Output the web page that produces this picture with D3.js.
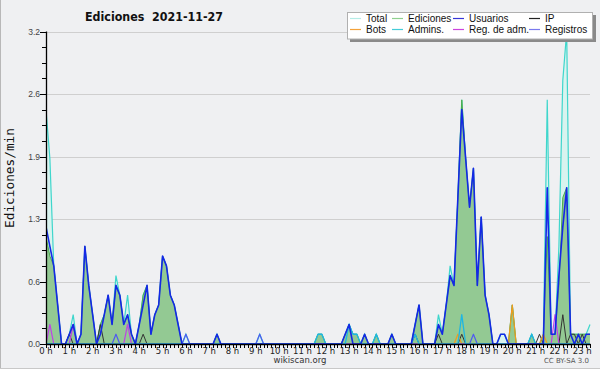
<!DOCTYPE html>
<html><head><meta charset="utf-8">
<script src="https://cdn.jsdelivr.net/npm/d3@7"></script>
<style>body{margin:0;background:#fff}svg{display:block}</style>
</head><body><svg id="c" width="600" height="370"></svg>
<script>
// 10-minute bins, 0:00 .. 23:20 (141 points), values in edits/min
const hourLabels = d3.range(24).map(h => h + " h");
const yTickValues = [0, 0.64, 1.28, 1.92, 2.56, 3.2];
const yTickLabels = ["0.0", "0.6", "1.3", "1.9", "2.6", "3.2"];

const total = [
 2.4,1.9,0.8,0.4,0,0,  0.1,0.3,0,0.1,1.0,0.6,  0.3,0,0.2,0.3,0.5,0.2,  0.7,0.5,0.2,0.5,0.1,0,
 0.2,0.5,0.6,0.1,0.3,0.4,  0.9,0.8,0.5,0.4,0.2,0,  0.1,0,0,0,0,0,  0,0,0.1,0,0,0,
 0,0,0,0,0,0,  0,0.1,0,0,0,0,  0,0,0,0,0,0,  0,0,0,0,0.1,0.1,
 0,0,0,0,0,0.1,  0.2,0.1,0.1,0,0.1,0,  0,0.1,0,0,0,0.1,  0,0,0,0,0,0.2,
 0.4,0,0,0,0,0.3,  0.1,0.4,0.8,0.6,1.5,2.5,  1.9,1.4,1.8,0.6,1.3,0.5,  0.3,0,0,0.1,0.1,0,
 0.4,0,0,0,0,0.1,  0,0,0.1,2.5,0.1,0.1,  1.0,2.7,3.2,0.1,0.1,0.1,  0.1,0.1,0.2];
const edits = [
 1.1,0.9,0.8,0.4,0,0,  0.1,0.2,0,0.1,1.0,0.6,  0.3,0,0.2,0.3,0.5,0.2,  0.6,0.5,0.2,0.3,0.1,0,
 0.2,0.5,0.6,0.1,0.3,0.4,  0.9,0.8,0.5,0.4,0.2,0,  0,0,0,0,0,0,  0,0,0.1,0,0,0,
 0,0,0,0,0,0,  0,0,0,0,0,0,  0,0,0,0,0,0,  0,0,0,0,0.1,0.1,
 0,0,0,0,0,0.1,  0.2,0.1,0.1,0,0.1,0,  0,0.1,0,0,0,0.1,  0,0,0,0,0,0.2,
 0.4,0,0,0,0,0.2,  0.1,0.4,0.7,0.6,1.5,2.5,  1.9,1.4,1.8,0.6,1.3,0.5,  0.3,0,0,0,0,0,
 0.4,0,0,0,0,0.1,  0,0,0.1,1.1,0.1,0.1,  0.6,1.5,1.6,0.1,0.1,0.1,  0.1,0.1,0.1];
const users = [
 1.2,1.0,0.8,0.4,0,0,  0.1,0.2,0,0.1,1.0,0.6,  0.3,0,0.1,0.3,0.5,0.2,  0.6,0.5,0.2,0.3,0.1,0,
 0.2,0.4,0.6,0.1,0.3,0.4,  0.9,0.8,0.5,0.4,0.2,0,  0,0,0,0,0,0,  0,0,0.1,0,0,0,
 0,0,0,0,0,0,  0,0,0,0,0,0,  0,0,0,0,0,0,  0,0,0,0,0,0,
 0,0,0,0,0,0.1,  0.2,0,0,0,0.1,0,  0,0,0,0,0,0.1,  0,0,0,0,0,0.2,
 0.4,0,0,0,0,0.2,  0.1,0.4,0.7,0.6,1.5,2.4,  1.9,1.4,1.8,0.6,1.3,0.5,  0.3,0,0,0.1,0.1,0,
 0,0,0,0,0,0,  0,0,0,1.6,0.1,0.1,  0.7,1.2,1.6,0.1,0,0.1,  0,0.1,0.1];
const ip = [
 0,0,0,0,0,0,  0.1,0,0,0,0,0,  0,0,0.2,0,0,0,  0,0,0,0,0,0,
 0,0.1,0,0,0,0,  0,0,0,0,0,0,  0,0,0,0,0,0,  0,0,0,0,0,0,
 0,0,0,0,0,0,  0,0,0,0,0,0,  0,0,0,0,0,0,  0,0,0,0,0,0,
 0,0,0,0,0,0,  0,0,0,0,0,0,  0,0,0,0,0,0,  0,0,0,0,0,0.1,
 0,0,0,0,0,0.1,  0,0,0,0,0,0.1,  0,0,0,0,0,0,  0,0,0,0,0,0,
 0,0,0,0,0,0,  0,0.1,0,0,0,0,  0,0.3,0,0.1,0.1,0,  0.1,0,0];
const bots = [
 0,0,0,0,0,0,  0,0,0,0,0,0,  0,0,0,0,0,0,  0,0,0,0,0,0,
 0,0,0,0,0,0,  0,0,0,0,0,0,  0,0,0,0,0,0,  0,0,0,0,0,0,
 0,0,0,0,0,0,  0,0,0,0,0,0,  0,0,0,0,0,0,  0,0,0,0,0,0,
 0,0,0,0,0,0,  0,0,0,0,0,0,  0,0,0,0,0,0,  0,0,0,0,0,0,
 0,0,0,0,0,0,  0,0,0,0,0.1,0,  0,0,0,0,0,0,  0,0,0,0,0,0,
 0.4,0,0,0,0,0,  0,0,0.1,0,0,0,  0,0,0,0,0,0,  0,0,0];
const admins = [
 0,0,0,0,0,0,  0,0,0,0,0,0,  0,0,0,0,0,0,  0,0,0,0,0,0,
 0,0,0,0,0,0,  0,0,0,0,0,0,  0,0,0,0,0,0,  0,0,0,0,0,0,
 0,0,0,0,0,0,  0,0,0,0,0,0,  0,0,0,0,0,0,  0,0,0,0,0.1,0.1,
 0,0,0,0,0,0,  0.2,0.1,0.1,0,0,0,  0,0.1,0,0,0,0,  0,0,0,0,0,0.1,
 0,0,0,0,0,0,  0,0,0,0,0,0.3,  0,0,0,0,0,0,  0,0,0,0,0,0,
 0,0,0,0,0,0.1,  0,0,0,0,0,0,  0,0,0,0,0,0,  0,0,0];
const adminLogs = [
 0,0.2,0,0,0,0,  0,0.2,0,0,0,0,  0,0,0,0,0,0,  0,0,0,0.2,0,0,
 0,0,0,0,0,0,  0,0,0,0,0,0,  0,0,0,0,0,0,  0,0,0,0,0,0,
 0,0,0,0,0,0,  0,0,0,0,0,0,  0,0,0,0,0,0,  0,0,0,0,0,0,
 0,0,0,0,0,0,  0,0,0,0,0,0,  0,0,0,0,0,0,  0,0,0,0,0,0,
 0,0,0,0,0,0,  0,0,0,0,0,0,  0,0,0,0,0,0,  0,0,0,0,0,0,
 0,0,0,0,0,0,  0,0,0,0,0,0.3,  0,0,0,0,0,0,  0,0,0];
const logs = [
 0,0,0,0,0,0,  0,0,0,0,0,0,  0,0,0,0,0,0,  0.1,0,0,0,0,0,
 0,0,0,0,0,0,  0,0,0,0,0,0,  0.1,0,0,0,0,0,  0,0,0,0,0,0,
 0,0,0,0,0,0,  0,0.1,0,0,0,0,  0,0,0,0,0,0,  0,0,0,0,0,0,
 0,0,0,0,0,0,  0,0,0,0,0,0,  0,0,0,0,0,0,  0,0,0,0,0,0,
 0,0,0,0,0,0,  0,0,0,0,0,0,  0,0,0.1,0,0,0,  0,0,0,0,0,0,
 0,0,0,0,0,0,  0,0,0,0,0,0,  0,0,0,0,0,0,  0,0,0];

const legendNames = ["Total","Ediciones","Usuarios","IP","Bots","Admins.","Reg. de adm.","Registros"];
const legendColors = ["#b4ece6","#8fd08f","#3636d8","#222222","#f4a23a","#44ccd8","#cc44dd","#7a7aee"];

const W = 600, H = 370;
const svg = d3.select("#c");
svg.append("rect").attr("width", W).attr("height", H).attr("fill", "#eff0f2");
svg.append("line").attr("x1",0.5).attr("x2",0.5).attr("y1",0).attr("y2",368.5).attr("stroke","#b8b8b8");
svg.append("line").attr("x1",0).attr("x2",W).attr("y1",368.5).attr("y2",368.5).attr("stroke","#c8c8c8");
svg.append("rect").attr("x",0).attr("y",369).attr("width",W).attr("height",1).attr("fill","#ffffff");

const x = d3.scaleLinear().domain([0, total.length - 1]).range([46, 590]);
const y = d3.scaleLinear().domain([0, 3.2]).range([344, 31.5]);

// gridlines
svg.append("g").selectAll("line").data(yTickValues.slice(1)).join("line")
  .attr("x1", 46).attr("x2", 590)
  .attr("y1", d => Math.round(y(d)) + 0.5).attr("y2", d => Math.round(y(d)) + 0.5)
  .attr("stroke", "#cfcfcf").attr("stroke-width", 1);

svg.append("clipPath").attr("id","clip").append("rect")
  .attr("x",46).attr("y",28).attr("width",545).attr("height",317);
const plot = svg.append("g").attr("clip-path","url(#clip)");

const area = d3.area().x((d,i) => x(i)).y0(y(0)).y1(d => y(d));
const line = d3.line().x((d,i) => x(i)).y(d => y(d));

plot.append("path").datum(total).attr("d", area).attr("fill", "#d9f3ef");
plot.append("path").datum(total).attr("d", line).attr("fill","none").attr("stroke","#3fd6cc").attr("stroke-width",1.2);
plot.append("path").datum(edits).attr("d", area).attr("fill", "#93c993");
plot.append("path").datum(edits).attr("d", line).attr("fill","none").attr("stroke","#4cad4c").attr("stroke-width",1);

const lineSeries = [
  [ip, "#333333", 1],
  [bots, "#f29a1c", 1.2],
  [adminLogs, "#c040e8", 1.2],
  [logs, "#4f5af0", 1.2],
  [admins, "#1fb6e2", 1.3],
  [users, "#1428e6", 1.6]
];
lineSeries.forEach(([data, col, w]) => {
  plot.append("path").datum(data).attr("d", line).attr("fill","none")
    .attr("stroke", col).attr("stroke-width", w).attr("stroke-linejoin","round");
});

// Y axis
const ya = svg.append("g");
ya.append("line").attr("x1",46.5).attr("x2",46.5).attr("y1",y(3.2)).attr("y2",345).attr("stroke","#000").attr("stroke-width",1.3);
const minor = d3.range(0, 21).map(k => k * 0.16);
ya.selectAll("line.m").data(minor).join("line").attr("class","m")
  .attr("x1", 42).attr("x2", 46)
  .attr("y1", d => Math.round(y(d)) + 0.5).attr("y2", d => Math.round(y(d)) + 0.5)
  .attr("stroke", "#000");
ya.selectAll("line.M").data(yTickValues).join("line").attr("class","M")
  .attr("x1", 40).attr("x2", 46)
  .attr("y1", d => Math.round(y(d)) + 0.5).attr("y2", d => Math.round(y(d)) + 0.5)
  .attr("stroke", "#000");
ya.selectAll("text").data(yTickValues).join("text")
  .attr("x", 40).attr("y", d => y(d) + 3)
  .attr("text-anchor","end").attr("font-family","Liberation Sans, Arial, sans-serif")
  .attr("font-size", 8.5).attr("fill","#444")
  .text((d,i) => yTickLabels[i]);

// X axis
const xa = svg.append("g");
xa.append("line").attr("x1",46).attr("x2",590.5).attr("y1",344.5).attr("y2",344.5).attr("stroke","#000").attr("stroke-width",1.5);
xa.selectAll("line.t").data(d3.range(total.length)).join("line").attr("class","t")
  .attr("x1", d => Math.round(x(d)) + 0.5).attr("x2", d => Math.round(x(d)) + 0.5)
  .attr("y1", 344).attr("y2", 348).attr("stroke","#000");
xa.selectAll("text").data(hourLabels).join("text")
  .attr("x", (d,i) => x(i * 6)).attr("y", 354)
  .attr("text-anchor","middle").attr("font-family","DejaVu Sans, sans-serif")
  .attr("font-size", 8.5).attr("fill","#222")
  .text(d => d);

// Titles
svg.append("text").attr("x", 85).attr("y", 21)
  .attr("font-family","DejaVu Sans, sans-serif").attr("font-weight","bold").attr("font-size",12.5)
  .attr("fill","#111").style("white-space","pre")
  .attr("textLength",138).attr("lengthAdjust","spacingAndGlyphs")
  .text("Ediciones  2021-11-27");
svg.append("text").attr("transform","translate(14,178) rotate(-90)")
  .attr("text-anchor","middle").attr("font-family","DejaVu Sans Mono, monospace").attr("font-size",11.5)
  .attr("fill","#111").attr("textLength",100).attr("lengthAdjust","spacingAndGlyphs")
  .text("Ediciones/min");
svg.append("text").attr("x", 300).attr("y", 363).attr("text-anchor","middle")
  .attr("font-family","DejaVu Sans, sans-serif").attr("font-size",8.5).attr("fill","#333")
  .text("wikiscan.org");
svg.append("text").attr("x", 589).attr("y", 363).attr("text-anchor","end")
  .attr("font-family","DejaVu Sans, sans-serif").attr("font-size",7).attr("fill","#555")
  .text("CC BY-SA 3.0");

// Legend
const lg = svg.append("g");
lg.append("rect").attr("x",350).attr("y",15).attr("width",246).attr("height",27).attr("fill","#8a8a8a");
lg.append("rect").attr("x",347.5).attr("y",12.5).attr("width",245).attr("height",26.5).attr("fill","#fff").attr("stroke","#b0b0b0");
const colX = [350, 392, 453, 529];
legendNames.forEach((name, k) => {
  const col = k % 4, row = Math.floor(k / 4);
  const ly = row === 0 ? 18.5 : 29.5;
  lg.append("line").attr("x1", colX[col]).attr("x2", colX[col] + 11).attr("y1", ly).attr("y2", ly)
    .attr("stroke", legendColors[k]).attr("stroke-width", 1.2);
  lg.append("text").attr("x", colX[col] + 16).attr("y", ly + 3.6)
    .attr("font-family","Liberation Sans, Arial, sans-serif").attr("font-size",10).attr("fill","#111")
    .text(name);
});
</script>
</body></html>
